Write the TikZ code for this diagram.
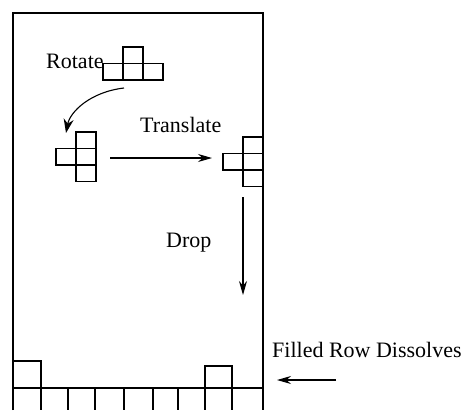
\documentclass[tikz,border=0pt]{standalone}
\usepackage{fontspec}
\setmainfont{Liberation Serif}
\usetikzlibrary{arrows.meta}
\tikzset{
  wall/.style={draw=black,line width=1.8pt},
  cellline/.style={draw=black,line width=1.1pt},
  move/.style={draw=black,line width=1.1pt,-{Stealth[length=14pt,width=8pt]}},
  caption/.style={font=\fontsize{22}{26}\selectfont,inner sep=0pt,anchor=base west}
}
\newcommand{\blk}[2]{\draw[cellline] (#1,#2) rectangle ++(20,16.5);}

\begin{document}
\begin{tikzpicture}[x=1pt,y=-1pt]
  \useasboundingbox (0,0) rectangle (463,410);
  % Pozo del tablero y fila inferior.
  \draw[wall] (13,410) -- (13,13) -- (263,13) -- (263,410);
  \draw[wall] (13,388) -- (263,388);
  \foreach \x in {41,68,95,124,153,178,205,232}{
    \draw[cellline] (\x,388) -- (\x,410);
  }
  \draw[cellline] (13,361) rectangle (41,388);
  \draw[cellline] (205,366) rectangle (232,388);

  % Pieza original.
  \blk{123}{47}
  \foreach \x in {103,123,143}{\blk{\x}{63.5}}
  % Pieza girada.
  \foreach \y in {132,148.5,165}{\blk{76}{\y}}
  \blk{56}{148.5}
  % Pieza trasladada.
  \foreach \y in {137,153.5,170}{\blk{243}{\y}}
  \blk{223}{153.5}

  \node[caption] (rotate) at (46,68) {Rotate};
  \node[caption] (translate) at (140,132) {Translate};
  \node[caption] (drop) at (166,247) {Drop};
  \node[caption] (dissolve) at (272,357) {Filled Row Dissolves};

  \coordinate (rotfrom) at (124,88);
  \coordinate (rotto) at (66,133);
  \coordinate (trfrom) at (110,158);
  \coordinate (trto) at (212,158);
  \coordinate (dropfrom) at (243,197);
  \coordinate (dropto) at (243,295);
  \coordinate (rowfrom) at (336,380);
  \coordinate (rowto) at (277,380);

  \draw[move,-{Stealth[length=14pt,width=10pt]}] (rotfrom) .. controls (90,92) and (70,112) .. (rotto);
  \draw[move] (trfrom) -- (trto);
  \draw[move] (dropfrom) -- (dropto);
  \draw[move] (rowfrom) -- (rowto);
\end{tikzpicture}
\end{document}
